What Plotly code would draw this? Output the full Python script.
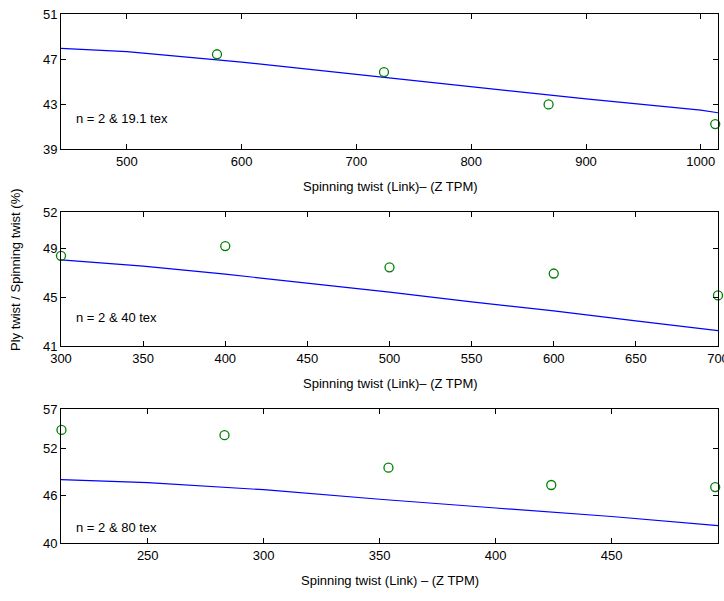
import plotly.graph_objects as go

# ---- data ----
# Panel 1: n = 2 & 19.1 tex
p1_twist = [578.5, 724, 867.4, 1012.6]
p1_ratio = [47.42, 45.84, 42.96, 41.22]
p1_fit_x = [442.6, 500, 600, 700, 800, 900, 1000, 1015]
p1_fit_y = [47.94, 47.66, 46.72, 45.62, 44.55, 43.45, 42.45, 42.22]

# Panel 2: n = 2 & 40 tex
p2_twist = [300, 400, 500, 600, 700]
p2_ratio = [48.4, 49.2, 47.46, 46.95, 45.15]
p2_fit_x = [300, 350, 400, 450, 500, 550, 600, 650, 700]
p2_fit_y = [48.07, 47.55, 46.9, 46.17, 45.42, 44.62, 43.88, 43.07, 42.27]

# Panel 3: n = 2 & 80 tex
p3_twist = [212.8, 283.1, 353.8, 424, 494.7]
p3_ratio = [54.35, 53.68, 49.55, 47.36, 47.1]
p3_fit_x = [212.6, 250, 300, 350, 400, 450, 495.9]
p3_fit_y = [48.03, 47.66, 46.76, 45.55, 44.44, 43.36, 42.2]

labels = ["n = 2 & 19.1 tex", "n = 2 & 40 tex", "n = 2 & 80 tex"]
x_titles = ["Spinning twist (Link)– (Z TPM)", "Spinning twist (Link)– (Z TPM)",
            "Spinning twist (Link) – (Z TPM)"]
x_ranges = [[442.6, 1015], [300, 700], [212.6, 495.9]]
y_ranges = [[39, 51], [41, 52], [40, 57]]
x_ticks = [[500, 600, 700, 800, 900, 1000],
           [300, 350, 400, 450, 500, 550, 600, 650, 700],
           [250, 300, 350, 400, 450]]
y_ticks = [[39, 43, 47, 51], [41, 45, 49, 52], [40, 46, 52, 57]]

panels = [(p1_twist, p1_ratio, p1_fit_x, p1_fit_y),
          (p2_twist, p2_ratio, p2_fit_x, p2_fit_y),
          (p3_twist, p3_ratio, p3_fit_x, p3_fit_y)]

W, H = 724, 601
ML, MR, MT, MB = 61, 6, 14, 58
ph = H - MT - MB
px_tops = [14, 212, 409]
px_bots = [149, 346, 543]

def py(v):
    return (543 - v) / ph

font = dict(family="Liberation Sans, Arial, Helvetica, sans-serif", size=13, color="black")

fig = go.Figure()
layout = dict(width=W, height=H, margin=dict(l=ML, r=MR, t=MT, b=MB, autoexpand=False),
              plot_bgcolor="white", paper_bgcolor="white", showlegend=False, font=font)
annotations = []
for i, (tx, ty, fx, fy) in enumerate(panels):
    k = "" if i == 0 else str(i + 1)
    xa, ya = "x" + k, "y" + k
    fig.add_trace(go.Scatter(x=fx, y=fy, mode="lines", line=dict(color="#0000ff", width=1.2),
                             xaxis=xa, yaxis=ya, cliponaxis=True))
    fig.add_trace(go.Scatter(x=tx, y=ty, mode="markers",
                             marker=dict(symbol="circle-open", size=9, color="#008000",
                                         line=dict(width=1.3, color="#008000")),
                             xaxis=xa, yaxis=ya, cliponaxis=False))
    axcommon = dict(showgrid=False, zeroline=False, showline=True, linecolor="black", linewidth=1,
                    mirror="ticks", ticks="inside", ticklen=5, tickcolor="black",
                    tickfont=font, automargin=False)
    layout["xaxis" + k] = dict(axcommon, domain=[0, 1], range=x_ranges[i], tickvals=x_ticks[i],
                               anchor=ya, ticklabeloverflow="allow")
    layout["yaxis" + k] = dict(axcommon, domain=[py(px_bots[i]), py(px_tops[i])],
                               range=y_ranges[i], tickvals=y_ticks[i], anchor=xa)
    annotations.append(dict(x=(390 - ML) / (W - ML - MR), y=py(px_bots[i] + 37), xref="paper",
                            yref="paper", text=x_titles[i], showarrow=False, font=font,
                            xanchor="center", yanchor="middle"))
    annotations.append(dict(x=x_ranges[i][0], y=0, xref=xa, yref="paper", text=labels[i],
                            showarrow=False, font=font, xanchor="left", yanchor="middle",
                            xshift=13))
# position the in-plot labels vertically
ann_y_px = [118, 318, 527]
for i in range(3):
    annotations[2 * i + 1]["y"] = py(ann_y_px[i])
annotations.append(dict(x=-ML / (W - ML - MR) + 15 / (W - ML - MR), y=py(270), xref="paper",
                        yref="paper", text="Ply twist / Spinning twist (%)", textangle=-90,
                        showarrow=False, font=font, xanchor="center", yanchor="middle"))
layout["annotations"] = annotations
fig.update_layout(**layout)
fig.write_html("out.html")
